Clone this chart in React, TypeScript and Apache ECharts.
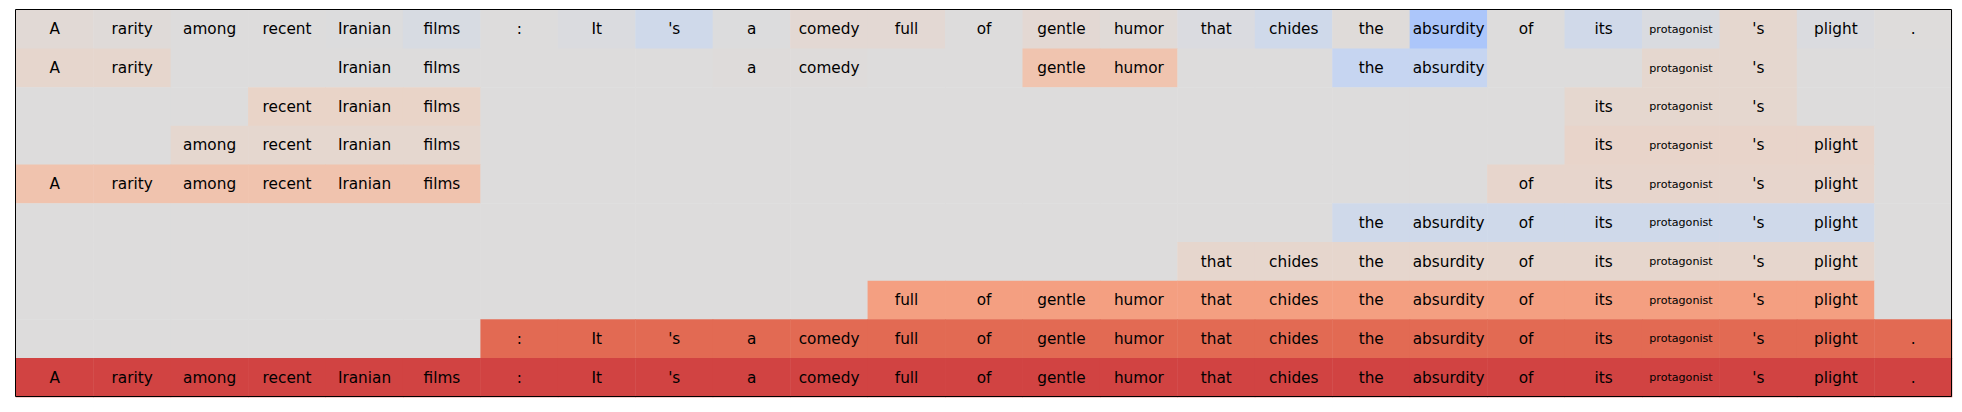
import React, { useEffect, useRef } from "react";
import * as echarts from "echarts";

// Tokens of the sentence (one column each)
const tokens = ["A", "rarity", "among", "recent", "Iranian", "films", ":", "It", "'s", "a", "comedy", "full", "of", "gentle", "humor", "that", "chides", "the", "absurdity", "of", "its", "protagonist", "'s", "plight", "."];

// Row 0: per-token scores
const tokenScores = [0.036, 0.02, 0, 0, -0.01, -0.04, 0, -0.02, -0.1, -0.005, 0.05, 0.05, 0, 0.05, 0.025, -0.025, -0.1, 0.015, -0.32, 0, -0.09, -0.03, 0.07, -0.02, 0.005];

// Rows 1..9: spans [startCol, endCol, score]
const level1 = [[0, 1, 0.08], [4, 5, 0.0], [9, 10, 0.01], [13, 14, 0.236], [17, 18, -0.16], [21, 22, 0.07]];
const level2 = [[3, 5, 0.11], [20, 22, 0.07]];
const level3 = [[2, 5, 0.07], [20, 23, 0.1]];
const level4 = [[0, 5, 0.24], [19, 23, 0.09]];
const level5 = [[17, 23, -0.1]];
const level6 = [[15, 23, 0.08]];
const level7 = [[11, 23, 0.47]];
const level8 = [[6, 24, 0.71]];
const level9 = [[0, 24, 0.82]];

const levels = [level1, level2, level3, level4, level5, level6, level7, level8, level9];

// coolwarm anchor colours at multiples of 1/7 (plus centre)
const cmStops = ["#3b4cc0", "#6788ee", "#9abbff", "#c9d7f0", "#dddcdc", "#edd1c2", "#f7a889", "#e26952", "#b40426"];
const cmPos = [0, 1 / 7, 2 / 7, 3 / 7, 0.5, 4 / 7, 5 / 7, 6 / 7, 1];

function hexToRgb(h: string) {
  return [parseInt(h.slice(1, 3), 16), parseInt(h.slice(3, 5), 16), parseInt(h.slice(5, 7), 16)];
}
function cmAt(t: number) {
  for (let i = 0; i < cmPos.length - 1; i++) {
    if (t <= cmPos[i + 1] + 1e-9) {
      const f = (t - cmPos[i]) / (cmPos[i + 1] - cmPos[i]);
      const a = hexToRgb(cmStops[i]);
      const b = hexToRgb(cmStops[i + 1]);
      const c = a.map((v, k) => Math.round(v + (b[k] - v) * f));
      return `rgb(${c[0]},${c[1]},${c[2]})`;
    }
  }
  return cmStops[cmStops.length - 1];
}
const rampColors = Array.from({ length: 15 }, (_, i) => cmAt(i / 14));

function buildData() {
  const data: any[] = [];
  tokens.forEach((t, c) => data.push([c, 0, tokenScores[c], t]));
  levels.forEach((spans, li) => {
    const row = li + 1;
    for (let c = 0; c < tokens.length; c++) {
      const sp = spans.find((s) => c >= s[0] && c <= s[1]);
      if (sp) data.push([c, row, sp[2], tokens[c]]);
      else data.push([c, row, 0, ""]);
    }
  });
  return data;
}

export default function App() {
  const ref = useRef<HTMLDivElement>(null);
  useEffect(() => {
    if (!ref.current) return;
    const chart = echarts.init(ref.current, null, { renderer: "svg" });
    const rows = Array.from({ length: levels.length + 1 }, (_, i) => String(i));
    chart.setOption({
      animation: false,
      backgroundColor: "#ffffff",
      grid: { left: 16, top: 10, width: 1936, height: 387 },
      xAxis: {
        type: "category",
        data: tokens.map((_, i) => String(i)),
        show: false,
      },
      yAxis: {
        type: "category",
        data: rows,
        inverse: true,
        show: false,
      },
      visualMap: {
        type: "continuous",
        min: -1,
        max: 1,
        dimension: 2,
        show: false,
        inRange: { color: rampColors },
      },
      series: [
        {
          type: "heatmap",
          data: buildData(),
          itemStyle: { borderWidth: 0 },
          label: {
            show: true,
            color: "#000",
            fontFamily: "DejaVu Sans",
            fontSize: 15.3,
            formatter: (p: any) => {
              const s = p.data[3];
              if (!s) return "";
              return s.length > 9 ? `{s|${s}}` : s;
            },
            rich: {
              s: { fontFamily: "DejaVu Sans", fontSize: 11.1, color: "#000" },
            },
          },
          emphasis: { disabled: true },
        },
      ],
      graphic: [
        {
          type: "rect",
          z: 100,
          shape: { x: 15.5, y: 9.5, width: 1936, height: 387 },
          style: { fill: "none", stroke: "#000", lineWidth: 1 },
        },
      ],
    });
    return () => chart.dispose();
  }, []);
  return (
    <div
      ref={ref}
      style={{ position: "fixed", left: 0, top: 0, width: 1962, height: 412 }}
    />
  );
}
